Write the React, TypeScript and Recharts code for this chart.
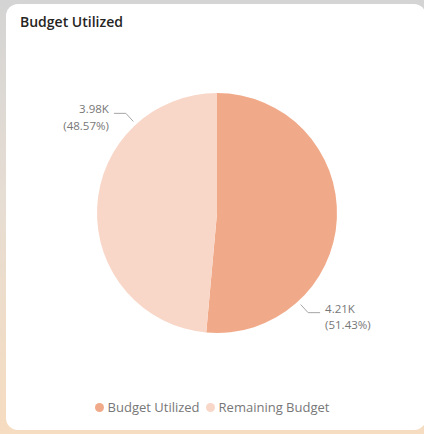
import { Cell, Legend, Pie, PieChart } from "recharts";

const categories = ["Budget Utilized", "Remaining Budget"];
const values = [4212, 3978];
const colors = ["#F1AA89", "#F8D7C8"];

const data = categories.map((name, i) => ({ name, value: values[i] }));

const RAD = Math.PI / 180;
const FONT = "'Open Sans', 'Segoe UI', sans-serif";

function renderLabel(props: any) {
  const { cx, cy, outerRadius, midAngle, value, percent } = props;
  const a = (midAngle - 45) * RAD;
  const cos = Math.cos(a);
  const sin = -Math.sin(a);
  const sx = cx + (outerRadius + 4) * cos;
  const sy = cy + (outerRadius + 4) * sin;
  const mx = cx + (outerRadius + 15) * cos;
  const my = cy + (outerRadius + 15) * sin;
  const right = cos >= 0;
  const ex = mx + (right ? 12 : -12);
  const tx = ex + (right ? 5 : -5);
  const anchor = right ? "start" : "end";
  return (
    <g>
      <polyline
        points={`${sx},${sy} ${mx},${my} ${ex},${my}`}
        fill="none"
        stroke="#a6a6a6"
        strokeWidth={1}
      />
      <text
        x={tx}
        y={my}
        textAnchor={anchor}
        fill="#777777"
        fontSize={11.5}
        fontFamily={FONT}
      >
        {`${(value / 1000).toFixed(2)}K`}
      </text>
      <text
        x={tx}
        y={my + 16.5}
        textAnchor={anchor}
        fill="#777777"
        fontSize={11.5}
        fontFamily={FONT}
      >
        {`(${(percent * 100).toFixed(2)}%)`}
      </text>
    </g>
  );
}

function renderLegend() {
  return (
    <div
      style={{
        display: "flex",
        justifyContent: "center",
        alignItems: "center",
        fontFamily: FONT,
        fontSize: 13,
        color: "#777777",
        gap: 6,
      }}
    >
      {categories.map((c, i) => (
        <span key={c} style={{ display: "flex", alignItems: "center" }}>
          <span
            style={{
              width: 9,
              height: 9,
              borderRadius: "50%",
              background: colors[i],
              marginRight: 4,
              display: "inline-block",
            }}
          />
          {c}
        </span>
      ))}
    </div>
  );
}

export default function App() {
  return (
    <div
      style={{
        position: "fixed",
        left: 0,
        top: 0,
        width: 424,
        height: 434,
        background: "linear-gradient(#d4d4d4, #e6ddd3 45%, #f6dcc0)",
        overflow: "hidden",
      }}
    >
      <div
        style={{
          position: "absolute",
          left: 6,
          top: 4,
          width: 420,
          height: 426,
          background: "#ffffff",
          borderRadius: 12,
        }}
      />
      <div
        style={{
          position: "absolute",
          left: 20,
          top: 12,
          fontFamily: FONT,
          fontWeight: 600,
          fontSize: 14,
          color: "#252423",
        }}
      >
        Budget Utilized
      </div>
      <div style={{ position: "absolute", left: 0, top: 0 }}>
        <PieChart
          width={424}
          height={434}
          margin={{ top: 0, right: 0, bottom: 0, left: 0 }}
        >
          <Pie
            data={data}
            dataKey="value"
            nameKey="name"
            cx={217}
            cy={213}
            outerRadius={120}
            startAngle={90}
            endAngle={-270}
            stroke="none"
            label={renderLabel}
            labelLine={false}
            isAnimationActive={false}
          >
            {data.map((d, i) => (
              <Cell key={d.name} fill={colors[i]} />
            ))}
          </Pie>
          <Legend
            content={renderLegend}
            wrapperStyle={{ top: 398, left: 0, width: 424 }}
          />
        </PieChart>
      </div>
    </div>
  );
}
